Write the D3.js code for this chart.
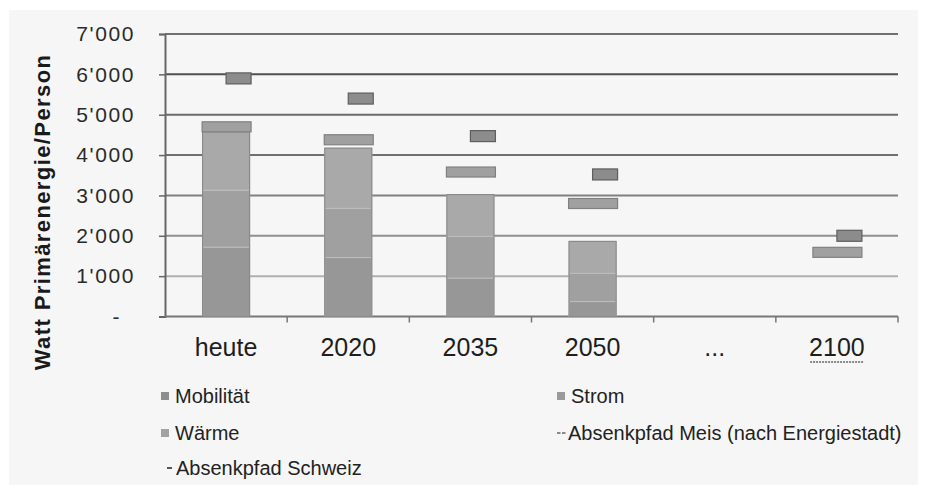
<!DOCTYPE html>
<html><head><meta charset="utf-8">
<script src="https://cdn.jsdelivr.net/npm/d3@7"></script>
<style>
html,body{margin:0;padding:0;background:#ffffff;}
svg{display:block;font-family:"Liberation Sans",Arial,sans-serif;}
</style></head>
<body>
<svg id="chart" width="928" height="492"></svg>
<script>
// ---- data ----
const categories = ["heute", "2020", "2035", "2050", "...", "2100"];
const mobilitaet = [1720, 1460, 950, 370, null, null];
const strom      = [1410, 1220, 1035, 700, null, null];
const waerme     = [1440, 1490, 1035, 790, null, null];
const absenkpfadMeis    = [4700, 4380, 3580, 2800, null, 1590];
const absenkpfadSchweiz = [5900, 5400, 4470, 3520, null, 2000];
const yTickValues = [0, 1000, 2000, 3000, 4000, 5000, 6000, 7000];
const seriesNames = ["Mobilität", "Strom", "Wärme", "Absenkpfad Meis (nach Energiestadt)", "Absenkpfad Schweiz"];

// ---- styles ----
const barColors = {"Mobilität": "#979797", "Strom": "#a0a0a0", "Wärme": "#a9a9a9"};
const legendSquare = {"Mobilität": "#8e8e8e", "Strom": "#9a9a9a", "Wärme": "#a2a2a2"};
const gridShades = ["#7a7a7a", "#b0b0b0", "#8e8e8e", "#808080", "#707070", "#6a6a6a", "#505050", "#707070"];

const svg = d3.select("#chart");
const W = 928, H = 492;
const M = {left: 165, right: 898, top: 34, bottom: 316.5};

// outer background panel
svg.append("rect").attr("x", 9).attr("y", 10).attr("width", 909).attr("height", 475)
  .attr("fill", "#f6f6f6");

const x = d3.scaleBand().domain(categories).range([M.left, M.right]).paddingInner(0).paddingOuter(0);
const y = d3.scaleLinear().domain([0, 7000]).range([M.bottom, M.top]);

// gridlines
svg.append("g").selectAll("line").data(yTickValues.filter(d => d > 0)).join("line")
  .attr("x1", M.left).attr("x2", M.right)
  .attr("y1", d => y(d)).attr("y2", d => y(d))
  .attr("stroke", (d, i) => gridShades[i + 1]).attr("stroke-width", 2);

// y axis
const yAxis = d3.axisLeft(y).tickValues(yTickValues).tickSize(6).tickPadding(24)
  .tickFormat(d => d === 0 ? "-" : d3.format(",")(d).replace(/,/g, "'"));
const gy = svg.append("g").attr("transform", `translate(${M.left},0)`).call(yAxis);
gy.select(".domain").attr("stroke", "#666").attr("stroke-width", 2);
gy.selectAll(".tick line").attr("stroke", "#666").attr("stroke-width", 1.5);
gy.selectAll(".tick text").attr("font-size", 21).attr("fill", "#2a2a2a")
  .attr("letter-spacing", "1.6px").attr("font-family", "'Liberation Sans',Arial,sans-serif");
gy.selectAll(".tick text").filter(d => d === 0).attr("dx", -14);

// x axis (category boundaries as ticks)
svg.append("line").attr("x1", M.left).attr("x2", M.right).attr("y1", y(0)).attr("y2", y(0))
  .attr("stroke", "#777").attr("stroke-width", 2);
const bounds = categories.map(c => x(c)).concat([x(categories[categories.length - 1]) + x.bandwidth()]);
svg.append("g").selectAll("line").data(bounds.slice(1)).join("line")
  .attr("x1", d => d).attr("x2", d => d).attr("y1", y(0)).attr("y2", y(0) + 6)
  .attr("stroke", "#777").attr("stroke-width", 1.5);

// stacked bars
const rows = categories.map((c, i) => ({cat: c, "Mobilität": mobilitaet[i] || 0, "Strom": strom[i] || 0, "Wärme": waerme[i] || 0}));
const stack = d3.stack().keys(["Mobilität", "Strom", "Wärme"])(rows);
const barW = 47;
const cx = c => x(c) + x.bandwidth() / 2;
const gBars = svg.append("g");
stack.forEach(s => {
  gBars.selectAll(null).data(s.filter(d => d[1] > d[0])).join("rect")
    .attr("x", d => cx(d.data.cat) - barW / 2).attr("width", barW)
    .attr("y", d => y(d[1])).attr("height", d => y(d[0]) - y(d[1]))
    .attr("fill", barColors[s.key]).attr("stroke", "#bdbdbd").attr("stroke-width", 1);
});
// bar outlines
gBars.selectAll(null).data(rows.filter(r => r["Wärme"] > 0)).join("rect")
  .attr("x", d => cx(d.cat) - barW / 2).attr("width", barW)
  .attr("y", d => y(d["Mobilität"] + d["Strom"] + d["Wärme"]))
  .attr("height", d => y(0) - y(d["Mobilität"] + d["Strom"] + d["Wärme"]))
  .attr("fill", "none").attr("stroke", "#8a8a8a").attr("stroke-width", 1.2);

// Absenkpfad markers
const meisData = categories.map((c, i) => ({cat: c, v: absenkpfadMeis[i]})).filter(d => d.v != null);
const schweizData = categories.map((c, i) => ({cat: c, v: absenkpfadSchweiz[i]})).filter(d => d.v != null);
svg.append("g").selectAll("rect").data(meisData).join("rect")
  .attr("x", d => cx(d.cat) - 24).attr("width", 49)
  .attr("y", d => y(d.v) - 5).attr("height", 10)
  .attr("fill", "#a0a0a0").attr("stroke", "#808080").attr("stroke-width", 1.2);
svg.append("g").selectAll("rect").data(schweizData).join("rect")
  .attr("x", d => cx(d.cat)).attr("width", 25)
  .attr("y", d => y(d.v) - 5.5).attr("height", 11)
  .attr("fill", "#8c8c8c").attr("stroke", "#5e5e5e").attr("stroke-width", 1.2);

// x labels
const xl = svg.append("g").selectAll("text").data(categories).join("text")
  .attr("x", d => cx(d)).attr("y", 356).attr("text-anchor", "middle")
  .attr("font-size", 25).attr("fill", "#1e1e1e").text(d => d);
// underline under 2100
xl.filter(d => d === "2100").each(function() {
  const b = this.getBBox();
  svg.append("line").attr("x1", b.x + 1).attr("x2", b.x + b.width - 1)
    .attr("y1", b.y + b.height + 1).attr("y2", b.y + b.height + 1)
    .attr("stroke", "#8a8a8a").attr("stroke-width", 2).attr("stroke-dasharray", "2,1");
});

// y title
svg.append("text").attr("transform", "translate(50,212) rotate(-90)")
  .attr("text-anchor", "middle").attr("font-size", 22).attr("font-weight", "bold")
  .attr("letter-spacing", "1.4px").attr("fill", "#1a1a1a").text("Watt Primärenergie/Person");

// legend
const legendItems = [
  {name: seriesNames[0], type: "sq", col: 0, row: 0},
  {name: seriesNames[1], type: "sq", col: 1, row: 0},
  {name: seriesNames[2], type: "sq", col: 0, row: 1},
  {name: seriesNames[3], type: "dash2", col: 1, row: 1},
  {name: seriesNames[4], type: "dash1", col: 0, row: 2}
];
const colX = [161, 557], rowY = [396, 433, 468];
const lg = svg.append("g");
legendItems.forEach(it => {
  const gx = colX[it.col], gyy = rowY[it.row];
  if (it.type === "sq") {
    lg.append("rect").attr("x", gx).attr("y", gyy - 4).attr("width", 8).attr("height", 8)
      .attr("fill", legendSquare[it.name]);
    lg.append("text").attr("x", gx + 14).attr("y", gyy + 7).attr("font-size", 20)
      .attr("fill", "#222").text(it.name);
  } else if (it.type === "dash2") {
    lg.append("line").attr("x1", gx).attr("x2", gx + 9).attr("y1", gyy).attr("y2", gyy)
      .attr("stroke", "#8a8a8a").attr("stroke-width", 2).attr("stroke-dasharray", "3.5,1.5");
    lg.append("text").attr("x", gx + 11).attr("y", gyy + 7).attr("font-size", 20)
      .attr("fill", "#222").text(it.name);
  } else {
    lg.append("line").attr("x1", gx + 6).attr("x2", gx + 11).attr("y1", gyy).attr("y2", gyy)
      .attr("stroke", "#555").attr("stroke-width", 2);
    lg.append("text").attr("x", gx + 15).attr("y", gyy + 7).attr("font-size", 20)
      .attr("fill", "#222").text(it.name);
  }
});
</script>
</body></html>
